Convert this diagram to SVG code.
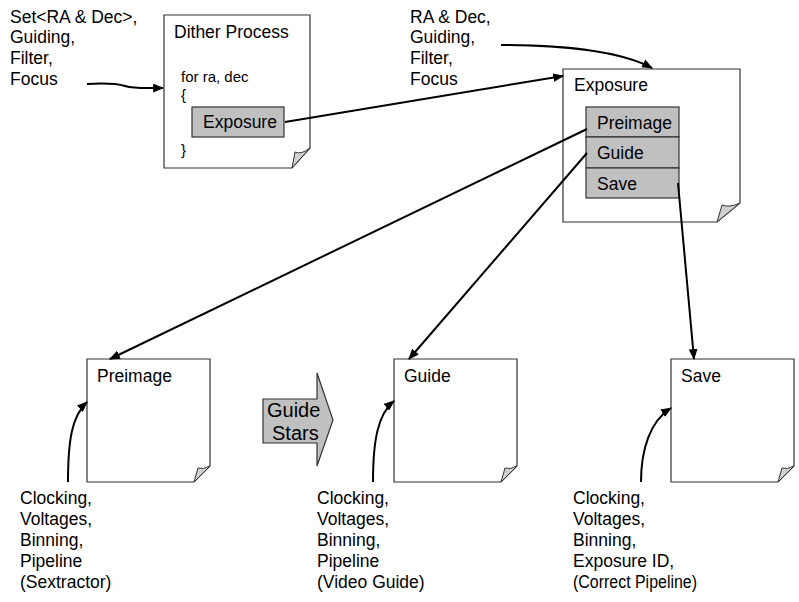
<svg xmlns="http://www.w3.org/2000/svg" width="799" height="602" viewBox="0 0 799 602">
  <style>
    text { font-family: "Liberation Sans", Arial, sans-serif; font-size: 17.5px; fill: #000; }
    .small { font-size: 15px; }
    .big { font-size: 20px; }
    .page { fill: #fff; stroke: #333; stroke-width: 1.2; }
    .curl { fill: #d0d0d0; stroke: #333; stroke-width: 1; }
    .cell { fill: #c0c0c0; stroke: #333; stroke-width: 1.2; }
    .wire { fill: none; stroke: #000; stroke-width: 2; marker-end: url(#head); }
  </style>
  <defs>
    <marker id="head" viewBox="0 0 10 8" refX="9" refY="4" markerWidth="11" markerHeight="9" markerUnits="userSpaceOnUse" orient="auto">
      <path d="M0,0 L10,4 L0,8 z" fill="#000"/>
    </marker>
  </defs>

  <rect width="799" height="602" fill="#fff"/>

  <!-- free-standing parameter lists -->
  <g id="inputs-top-left">
    <text x="10" y="22.5">Set&lt;RA &amp; Dec&gt;,</text>
    <text x="10" y="43.3">Guiding,</text>
    <text x="10" y="64.1">Filter,</text>
    <text x="10" y="85">Focus</text>
  </g>
  <g id="inputs-top-right">
    <text x="410" y="22.5">RA &amp; Dec,</text>
    <text x="410" y="43.3">Guiding,</text>
    <text x="410" y="64.1">Filter,</text>
    <text x="410" y="85">Focus</text>
  </g>

  <!-- Dither Process page -->
  <g id="dither">
    <path class="page" d="M164,15 H310 V148 L292,168 H164 Z"/>
    <path class="curl" d="M292,168 L295,152 Q301,155 310,148 Z"/>
    <text x="174" y="38">Dither Process</text>
    <text class="small" x="181" y="82">for ra, dec</text>
    <text class="small" x="181" y="100">{</text>
    <rect class="cell" x="192" y="107" width="92" height="30"/>
    <text x="203" y="128">Exposure</text>
    <text class="small" x="181" y="155">}</text>
  </g>

  <!-- Exposure page with its three steps -->
  <g id="exposure">
    <path class="page" d="M563,69 H740 V203 L717,222 H563 Z"/>
    <path class="curl" d="M717,222 L722,205 Q729,208 740,203 Z"/>
    <text x="574" y="91">Exposure</text>
    <rect class="cell" x="586" y="107" width="93" height="30"/>
    <rect class="cell" x="586" y="137" width="93" height="31"/>
    <rect class="cell" x="586" y="168" width="93" height="30"/>
    <text x="597" y="129">Preimage</text>
    <text x="597" y="159">Guide</text>
    <text x="597" y="190">Save</text>
  </g>

  <!-- bottom row pages -->
  <g id="preimage">
    <path class="page" d="M87,359 H210 V466 L194,482 H87 Z"/>
    <path class="curl" d="M194,482 L198,468 Q203,470 210,466 Z"/>
    <text x="97" y="382">Preimage</text>
  </g>
  <g id="guide">
    <path class="page" d="M394,359 H517 V466 L501,482 H394 Z"/>
    <path class="curl" d="M501,482 L505,468 Q510,470 517,466 Z"/>
    <text x="404" y="382">Guide</text>
  </g>
  <g id="save">
    <path class="page" d="M671,359 H794 V466 L778,482 H671 Z"/>
    <path class="curl" d="M778,482 L782,468 Q787,470 794,466 Z"/>
    <text x="681" y="382">Save</text>
  </g>

  <!-- block arrow between Preimage and Guide -->
  <g id="guide-stars">
    <path d="M263,399 H317 V373 L333,420 L317,466 V443 H263 Z" fill="#c0c0c0" stroke="#333" stroke-width="1.2"/>
    <text class="big" x="267" y="417">Guide</text>
    <text class="big" x="272" y="440">Stars</text>
  </g>

  <!-- configuration lists under each page -->
  <g id="config-preimage">
    <text x="20" y="504">Clocking,</text>
    <text x="20" y="525">Voltages,</text>
    <text x="20" y="546">Binning,</text>
    <text x="20" y="567">Pipeline</text>
    <text x="20" y="588">(Sextractor)</text>
  </g>
  <g id="config-guide">
    <text x="317" y="504">Clocking,</text>
    <text x="317" y="525">Voltages,</text>
    <text x="317" y="546">Binning,</text>
    <text x="317" y="567">Pipeline</text>
    <text x="317" y="588">(Video Guide)</text>
  </g>
  <g id="config-save">
    <text x="573" y="504">Clocking,</text>
    <text x="573" y="525">Voltages,</text>
    <text x="573" y="546">Binning,</text>
    <text x="573" y="567">Exposure ID,</text>
    <text x="573" y="588" textLength="124" lengthAdjust="spacingAndGlyphs">(Correct Pipeline)</text>
  </g>

  <!-- connectors -->
  <g id="connectors">
    <path class="wire" d="M87,84 C105,83 115,83 125,86 C135,89 145,88 163,88"/>
    <path class="wire" d="M501,45 C560,45 620,51 652,68"/>
    <path class="wire" d="M285,122 L563,76"/>
    <path class="wire" d="M587,129 L110,359"/>
    <path class="wire" d="M587,153 L409,359"/>
    <path class="wire" d="M678,183 L694,359"/>
    <path class="wire" d="M68,482 C68,440 72,416 87,402"/>
    <path class="wire" d="M373,482 C373,440 378,414 394,401"/>
    <path class="wire" d="M641,482 C641,450 650,421 671,408"/>
  </g>
</svg>
